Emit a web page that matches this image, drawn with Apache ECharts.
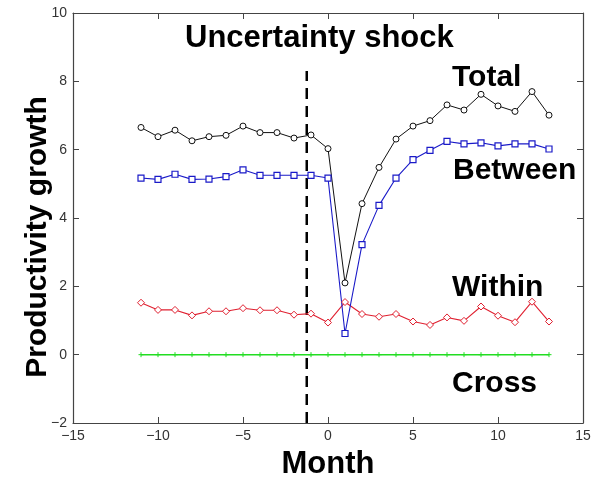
<!DOCTYPE html>
<html>
<head>
<meta charset="utf-8">
<script src="https://cdn.jsdelivr.net/npm/echarts@6/dist/echarts.min.js"></script>
<style>html,body{margin:0;padding:0;background:#fff}#c{width:603px;height:485px}</style>
</head>
<body>
<div id="c"></div>
<script>
var months = [-11,-10,-9,-8,-7,-6,-5,-4,-3,-2,-1,0,1,2,3,4,5,6,7,8,9,10,11,12,13];
var total   = [6.65,6.38,6.57,6.26,6.38,6.42,6.69,6.50,6.50,6.34,6.43,6.03,2.10,4.42,5.48,6.31,6.69,6.85,7.31,7.16,7.62,7.28,7.12,7.70,7.01];
var between = [5.17,5.13,5.28,5.13,5.14,5.21,5.41,5.25,5.25,5.25,5.25,5.17,0.62,3.22,4.37,5.17,5.71,5.98,6.24,6.17,6.20,6.11,6.17,6.17,6.02];
var within  = [1.52,1.31,1.31,1.15,1.27,1.27,1.36,1.30,1.30,1.17,1.20,0.94,1.54,1.19,1.11,1.19,0.97,0.87,1.09,0.99,1.41,1.14,0.95,1.55,0.97];
var cross   = [0,0,0,0,0,0,0,0,0,0,0,0,0,0,0,0,0,0,0,0,0,0,0,0,0];
var shockMonth = -1.25;
var shockRange = [-2, 8.3];
var xTicks = {min: -15, max: 15, interval: 5};
var yTicks = {min: -2, max: 10, interval: 2};

function pairs(xs, ys){ return xs.map(function(x,i){ return [x, ys[i]]; }); }
function minusFmt(v){ return String(v).replace('-', '\u2212'); }

var tickFont = {fontFamily: 'Liberation Sans', fontSize: 14, color: '#333'};
var axisLine = {onZero: false, lineStyle: {color: '#444', width: 1.2}};
var tick = {inside: true, length: 6, lineStyle: {color: '#444'}};

var chart = echarts.init(document.getElementById('c'), null, {renderer: 'canvas'});
chart.setOption({
  animation: false,
  backgroundColor: '#fff',
  grid: {left: 73, right: 20, top: 13, bottom: 53},
  xAxis: [{
    type: 'value', min: xTicks.min, max: xTicks.max, interval: xTicks.interval,
    position: 'bottom',
    name: 'Month', nameLocation: 'middle', nameGap: 26, nameMoveOverlap: false,
    nameTextStyle: {fontFamily: 'Liberation Sans', fontWeight: 'bold', fontSize: 31, color: '#000'},
    axisLine: axisLine, axisTick: tick,
    axisLabel: Object.assign({margin: 6, formatter: minusFmt}, tickFont),
    splitLine: {show: false}
  },{
    type: 'value', min: xTicks.min, max: xTicks.max, interval: xTicks.interval,
    position: 'top',
    axisLine: axisLine, axisTick: tick,
    axisLabel: {show: false}, splitLine: {show: false}
  }],
  yAxis: [{
    type: 'value', min: yTicks.min, max: yTicks.max, interval: yTicks.interval,
    position: 'left',
    name: 'Productivity growth', nameLocation: 'middle', nameGap: 20, nameRotate: 90, nameMoveOverlap: false,
    nameTextStyle: {fontFamily: 'Liberation Sans', fontWeight: 'bold', fontSize: 30, color: '#000', padding: [0, 38, 0, 0]},
    axisLine: axisLine, axisTick: tick,
    axisLabel: Object.assign({margin: 6, formatter: minusFmt}, tickFont),
    splitLine: {show: false}
  },{
    type: 'value', min: yTicks.min, max: yTicks.max, interval: yTicks.interval,
    position: 'right',
    axisLine: axisLine, axisTick: tick,
    axisLabel: {show: false}, splitLine: {show: false}
  }],
  series: [
    {
      name: 'Shock', type: 'line', silent: true, symbol: 'none',
      data: [[shockMonth, shockRange[0]], [shockMonth, shockRange[1]]],
      lineStyle: {color: '#000', width: 2.5, type: [11, 7]}
    },
    {
      name: 'Cross', type: 'line', data: pairs(months, cross),
      symbol: 'path://M0,5L10,5M5,0L5,10', symbolSize: 5,
      itemStyle: {color: '#fff', borderColor: '#22dd22', borderWidth: 1},
      lineStyle: {color: '#22dd22', width: 1.5}
    },
    {
      name: 'Within', type: 'line', data: pairs(months, within),
      symbol: 'diamond', symbolSize: 7,
      itemStyle: {color: '#fff', borderColor: '#e02030', borderWidth: 1},
      lineStyle: {color: '#e02030', width: 1.1}
    },
    {
      name: 'Between', type: 'line', data: pairs(months, between),
      symbol: 'rect', symbolSize: 6,
      itemStyle: {color: '#fff', borderColor: '#1a1ac8', borderWidth: 1.2},
      lineStyle: {color: '#1a1ac8', width: 1.1}
    },
    {
      name: 'Total', type: 'line', data: pairs(months, total),
      symbol: 'circle', symbolSize: 6,
      itemStyle: {color: '#fff', borderColor: '#111', borderWidth: 1},
      lineStyle: {color: '#111', width: 1}
    }
  ],
  graphic: [
    {type: 'text', left: 185, top: 23, style: {text: 'Uncertainty shock', font: 'bold 31px "Liberation Sans"', fill: '#000'}},
    {type: 'text', left: 452, top: 63, style: {text: 'Total', font: 'bold 30px "Liberation Sans"', fill: '#000'}},
    {type: 'text', left: 453, top: 156, style: {text: 'Between', font: 'bold 30px "Liberation Sans"', fill: '#000'}},
    {type: 'text', left: 452, top: 273, style: {text: 'Within', font: 'bold 30px "Liberation Sans"', fill: '#000'}},
    {type: 'text', left: 452, top: 369, style: {text: 'Cross', font: 'bold 30px "Liberation Sans"', fill: '#000'}}
  ]
});
</script>
</body>
</html>
